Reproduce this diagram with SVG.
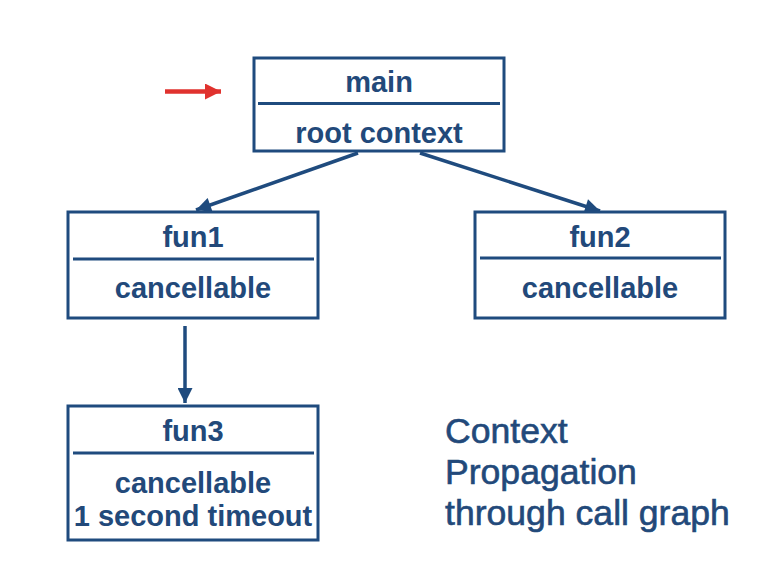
<svg xmlns="http://www.w3.org/2000/svg" width="763" height="565" viewBox="0 0 763 565">
  <defs>
    <style>
      .box { fill: #ffffff; stroke: #1f4b7e; stroke-width: 3; }
      .sep { stroke: #1f4b7e; stroke-width: 3; }
      .lbl { font-family: "Liberation Sans", Arial, Helvetica, sans-serif; font-weight: bold; font-size: 29px; fill: #22497a; text-anchor: middle; }
      .note { font-family: "Liberation Sans", Arial, Helvetica, sans-serif; font-size: 35.6px; fill: #22497a; stroke: #22497a; stroke-width: 0.6; }
      .edge { stroke: #1f4b7e; stroke-width: 3.5; fill: none; marker-end: url(#head); }
    </style>
    <marker id="head" viewBox="0 0 10 10" refX="10" refY="5" markerUnits="userSpaceOnUse" markerWidth="16" markerHeight="15" orient="auto">
      <path d="M0,0 L10,5 L0,10 Z" fill="#1f4b7e"/>
    </marker>
    <marker id="redhead" viewBox="0 0 10 10" refX="10" refY="5" markerUnits="userSpaceOnUse" markerWidth="19" markerHeight="16" orient="auto">
      <path d="M0,0 L10,5 L0,10 Z" fill="#e0322e"/>
    </marker>
  </defs>
  <rect width="763" height="565" fill="#ffffff"/>

  <!-- pointer to the entry function -->
  <line x1="165" y1="91.5" x2="221" y2="91.5" stroke="#e0322e" stroke-width="4.5" marker-end="url(#redhead)"/>

  <!-- call edges -->
  <g id="connectors">
    <line class="edge" x1="358" y1="153" x2="196" y2="210"/>
    <line class="edge" x1="420" y1="153" x2="600" y2="211"/>
    <line class="edge" x1="185" y1="326" x2="185" y2="403"/>
  </g>

  <g id="main">
    <rect class="box" x="254" y="58" width="250" height="93"/>
    <line class="sep" x1="258" y1="103.5" x2="500" y2="103.5"/>
    <text class="lbl" x="379" y="92">main</text>
    <text class="lbl" x="379" y="143">root context</text>
  </g>

  <g id="fun1">
    <rect class="box" x="68" y="212" width="250" height="106"/>
    <line class="sep" x1="73" y1="259" x2="314" y2="259"/>
    <text class="lbl" x="193" y="247">fun1</text>
    <text class="lbl" x="193" y="298">cancellable</text>
  </g>

  <g id="fun2">
    <rect class="box" x="475" y="212" width="250" height="106"/>
    <line class="sep" x1="480" y1="258" x2="721" y2="258"/>
    <text class="lbl" x="600" y="247">fun2</text>
    <text class="lbl" x="600" y="298">cancellable</text>
  </g>

  <g id="fun3">
    <rect class="box" x="68" y="406" width="250" height="134"/>
    <line class="sep" x1="73" y1="453" x2="314" y2="453"/>
    <text class="lbl" x="193" y="441">fun3</text>
    <text class="lbl" x="193" y="493">cancellable</text>
    <text class="lbl" x="193" y="526">1 second timeout</text>
  </g>

  <g id="caption">
    <text class="note" x="445" y="443">Context</text>
    <text class="note" x="445" y="484">Propagation</text>
    <text class="note" x="445" y="525">through call graph</text>
  </g>
</svg>
